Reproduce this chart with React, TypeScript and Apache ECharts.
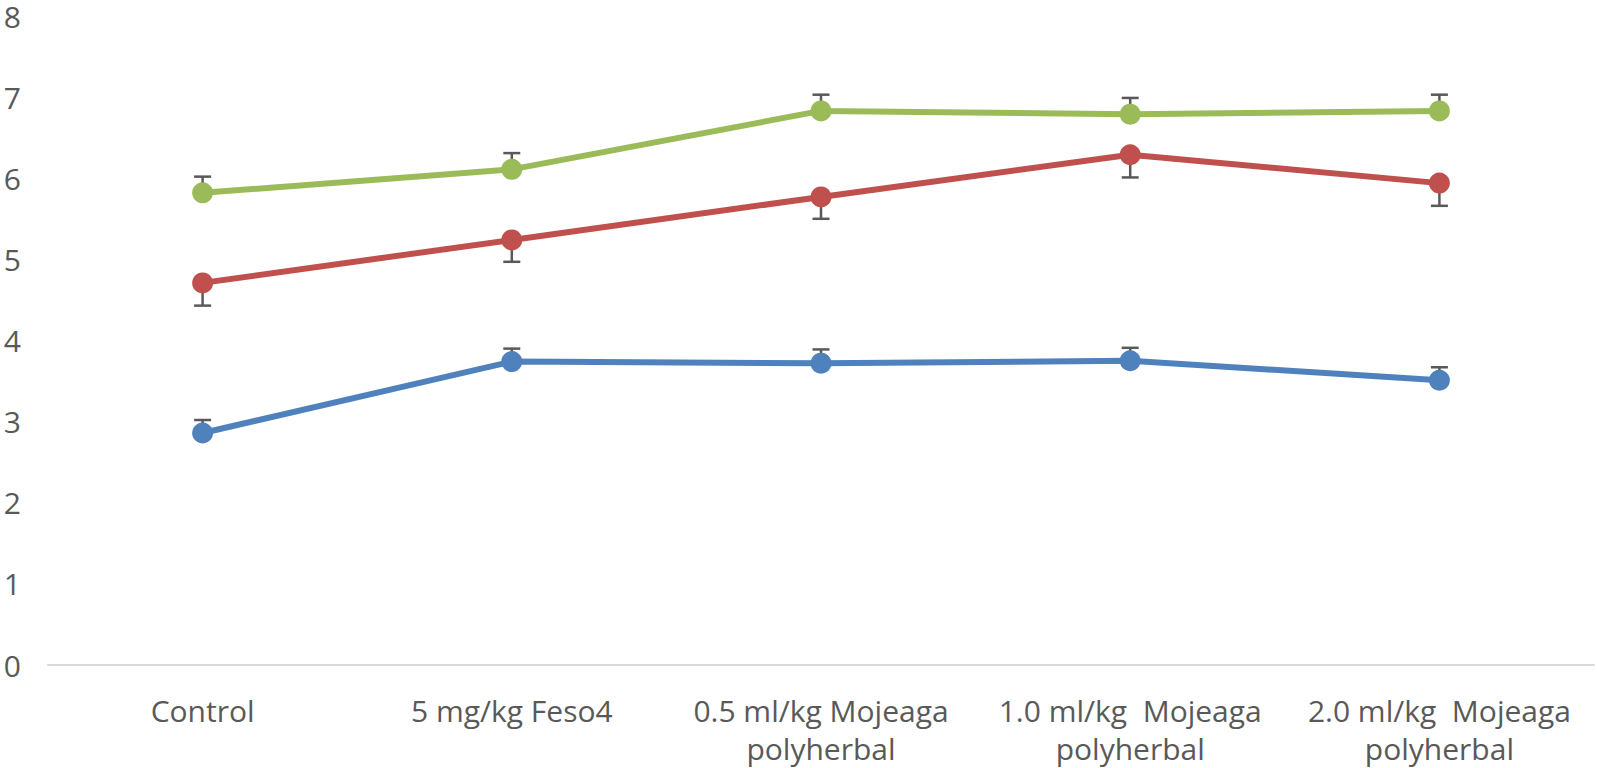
import React, { useEffect, useRef } from "react";
import * as echarts from "echarts";

const categories = [
  "Control",
  "5 mg/kg Feso4",
  "0.5 ml/kg Mojeaga\npolyherbal",
  "1.0 ml/kg  Mojeaga\npolyherbal",
  "2.0 ml/kg  Mojeaga\npolyherbal",
];
const yTicks = [0, 1, 2, 3, 4, 5, 6, 7, 8];

const blueValues = [2.86, 3.74, 3.72, 3.75, 3.51];
const blueErrUp = [0.16, 0.16, 0.17, 0.16, 0.16];

const redValues = [4.71, 5.24, 5.77, 6.29, 5.94];
const redErrDown = [0.28, 0.27, 0.27, 0.28, 0.28];

const greenValues = [5.82, 6.11, 6.83, 6.79, 6.83];
const greenErrUp = [0.2, 0.2, 0.2, 0.2, 0.2];

const BLUE = "#4F81BD";
const RED = "#C0504D";
const GREEN = "#9BBB59";
const TEXT = "#595959";
const FONT = "'Open Sans', sans-serif";

function errorSeries(values: number[], up: number[] | null, down: number[] | null) {
  const data = values.map((v, i) => [i, v, up ? up[i] : 0, down ? down[i] : 0]);
  return {
    type: "custom",
    z: 1,
    silent: true,
    data,
    encode: { x: 0, y: 1 },
    renderItem: (params: any, api: any) => {
      const idx = api.value(0);
      const v = api.value(1);
      const eu = api.value(2);
      const ed = api.value(3);
      const top = api.coord([idx, v + eu]);
      const bot = api.coord([idx, v - ed]);
      const half = 8.5;
      const style = { stroke: "#595959", lineWidth: 2.5 };
      const children: any[] = [
        { type: "line", shape: { x1: top[0], y1: top[1], x2: bot[0], y2: bot[1] }, style },
      ];
      if (eu > 0) {
        children.push({
          type: "line",
          shape: { x1: top[0] - half, y1: top[1], x2: top[0] + half, y2: top[1] },
          style,
        });
      }
      if (ed > 0) {
        children.push({
          type: "line",
          shape: { x1: bot[0] - half, y1: bot[1], x2: bot[0] + half, y2: bot[1] },
          style,
        });
      }
      return { type: "group", children };
    },
  };
}

function lineSeries(name: string, values: number[], color: string) {
  return {
    name,
    type: "line",
    z: 3,
    data: values,
    symbol: "circle",
    symbolSize: 21,
    lineStyle: { color, width: 6 },
    itemStyle: { color },
  };
}

export default function App() {
  const ref = useRef<HTMLDivElement>(null);
  useEffect(() => {
    if (!ref.current) return;
    const chart = echarts.init(ref.current, null, { renderer: "svg" });
    chart.setOption({
      animation: false,
      backgroundColor: "#ffffff",
      grid: {
        left: 48,
        right: 3,
        top: 16,
        bottom: 103,
        containLabel: false,
        outerBoundsMode: "none",
      },
      xAxis: {
        type: "category",
        data: categories,
        boundaryGap: true,
        axisLine: { show: true, lineStyle: { color: "#d9d9d9", width: 2 } },
        axisTick: { show: false },
        axisLabel: {
          color: TEXT,
          fontFamily: FONT,
          fontSize: 30,
          margin: 26,
          lineHeight: 38,
          interval: 0,
        },
      },
      yAxis: {
        type: "value",
        min: yTicks[0],
        max: yTicks[yTicks.length - 1],
        interval: 1,
        axisLine: { show: false },
        axisTick: { show: false },
        splitLine: { show: false },
        axisLabel: {
          color: TEXT,
          fontFamily: FONT,
          fontSize: 30,
          lineHeight: 22,
          margin: 27,
        },
      },
      series: [
        errorSeries(blueValues, blueErrUp, null),
        errorSeries(redValues, null, redErrDown),
        errorSeries(greenValues, greenErrUp, null),
        lineSeries("Blue", blueValues, BLUE),
        lineSeries("Red", redValues, RED),
        lineSeries("Green", greenValues, GREEN),
      ],
    });
    return () => chart.dispose();
  }, []);
  return <div ref={ref} style={{ width: 1597, height: 768, position: "absolute", left: 0, top: 0 }} />;
}
